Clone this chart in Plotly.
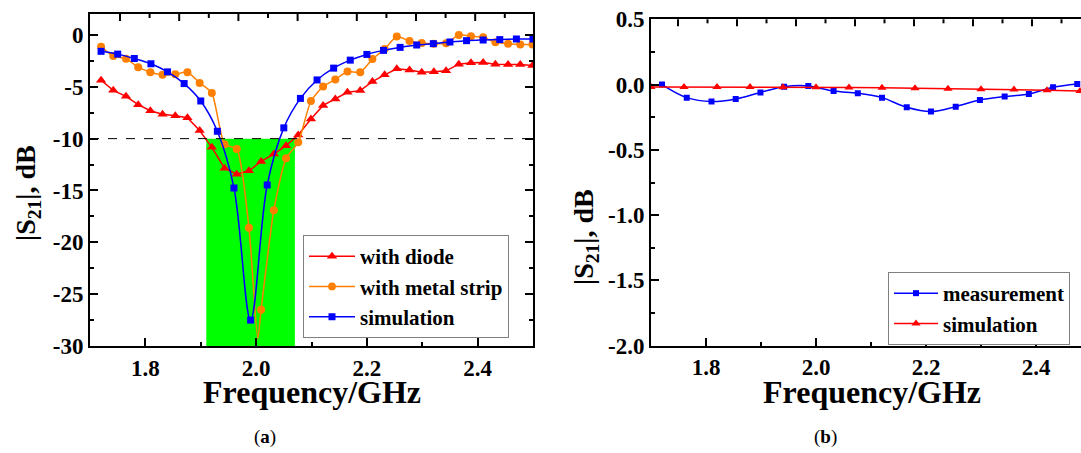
import plotly.graph_objects as go

# ---------------- data: panel (a) ----------------
sim_a_x = [1.72, 1.75, 1.78, 1.81, 1.84, 1.87, 1.90, 1.93, 1.96, 1.99, 2.02, 2.05, 2.08, 2.11,
           2.14, 2.17, 2.20, 2.23, 2.26, 2.29, 2.32, 2.35, 2.38, 2.41, 2.44, 2.47, 2.50]
sim_a_y = [-1.58, -1.85, -2.27, -2.78, -3.56, -4.69, -6.37, -9.29, -14.76, -27.5, -14.47, -8.96,
           -6.12, -4.34, -3.20, -2.43, -1.88, -1.49, -1.20, -0.97, -0.84, -0.68, -0.55, -0.49,
           -0.45, -0.39, -0.39]

diode_x = [1.720, 1.742, 1.765, 1.787, 1.809, 1.831, 1.854, 1.876, 1.898, 1.920, 1.943, 1.965,
           1.987, 2.009, 2.032, 2.054, 2.076, 2.099, 2.121, 2.143, 2.165, 2.188, 2.210, 2.232,
           2.254, 2.277, 2.299, 2.321, 2.343, 2.366, 2.388, 2.410, 2.432, 2.455, 2.477, 2.499]
diode_y = [-4.37, -5.34, -5.92, -6.73, -7.31, -7.64, -7.80, -7.99, -9.22, -10.84, -12.85, -13.43,
           -13.1, -12.2, -11.49, -10.68, -9.65, -8.1, -6.8, -6.18, -5.53, -5.37, -4.50, -3.85,
           -3.27, -3.37, -3.59, -3.56, -3.46, -2.82, -2.69, -2.65, -2.82, -2.84, -2.84, -2.94]

# metal strip curve: the minimum at 2.003 GHz is a line point drawn without a marker
strip_x = [1.720, 1.742, 1.765, 1.787, 1.809, 1.831, 1.854, 1.876, 1.898, 1.920, 1.943, 1.965,
           1.987, 2.003, 2.009, 2.032, 2.054, 2.076, 2.099, 2.121, 2.143, 2.165, 2.188, 2.210,
           2.232, 2.254, 2.277, 2.299, 2.321, 2.343, 2.366, 2.388, 2.410, 2.432, 2.455, 2.477,
           2.499]
strip_y = [-1.13, -2.04, -2.30, -3.11, -3.59, -3.85, -3.79, -3.59, -4.63, -5.60, -10.55, -11.0,
           -18.6, -29.3, -26.5, -16.9, -11.9, -10.36, -6.37, -4.98, -4.30, -3.53, -3.59, -2.33,
           -1.36, -0.16, -0.58, -0.78, -0.84, -0.81, 0.0, -0.13, -0.23, -0.71, -0.84, -0.91,
           -0.91]
strip_unmarked = [2.003]

band_lo, band_hi = 1.91, 2.07
threshold = -10

ya_tickvals = [0, -5, -10, -15, -20, -25, -30]
ya_ticktext = ["0", "-5", "-10", "-15", "-20", "-25", "-30"]
x_tickvals = [1.8, 2.0, 2.2, 2.4]
x_ticktext = ["1.8", "2.0", "2.2", "2.4"]

# ---------------- data: panel (b) ----------------
meas_b_x = [1.720, 1.765, 1.810, 1.854, 1.899, 1.942, 1.986, 2.032, 2.076, 2.120, 2.165, 2.209,
            2.254, 2.298, 2.343, 2.387, 2.431, 2.475]
meas_b_y = [0.0, -0.10, -0.13, -0.11, -0.06, -0.016, -0.01, -0.05, -0.067, -0.10, -0.174, -0.207,
            -0.169, -0.118, -0.092, -0.072, -0.021, 0.005]
sim_b_x = [1.70, 1.76, 1.82, 1.88, 1.94, 2.00, 2.06, 2.12, 2.18, 2.24, 2.30, 2.36, 2.42, 2.48]
sim_b_y = [-0.018, -0.018, -0.019, -0.019, -0.020, -0.021, -0.022, -0.025, -0.028, -0.031,
           -0.035, -0.038, -0.043, -0.050]
yb_tickvals = [0.5, 0.0, -0.5, -1.0, -1.5, -2.0]
yb_ticktext = ["0.5", "0.0", "-0.5", "-1.0", "-1.5", "-2.0"]

RED = "#ff0000"
ORANGE = "#ff8000"
BLUE = "#0000ff"
FONT = "Liberation Serif"
W, H = 1081, 453

fig = go.Figure()

strip_sizes = [0 if x in strip_unmarked else 8 for x in strip_x]

# panel (a)
fig.add_trace(go.Scatter(x=diode_x, y=diode_y, name="with diode", mode="lines+markers",
                         line=dict(color=RED, width=1.5),
                         marker=dict(symbol="triangle-up", size=9, color=RED),
                         xaxis="x", yaxis="y", legend="legend"))
fig.add_trace(go.Scatter(x=strip_x, y=strip_y, name="with metal strip", mode="lines+markers",
                         line=dict(color=ORANGE, width=1.5, shape="spline", smoothing=0.6),
                         marker=dict(symbol="circle", size=strip_sizes, color=ORANGE,
                                     opacity=1, line=dict(width=0)),
                         xaxis="x", yaxis="y", legend="legend"))
fig.add_trace(go.Scatter(x=sim_a_x, y=sim_a_y, name="simulation", mode="lines+markers",
                         line=dict(color=BLUE, width=1.5, shape="spline", smoothing=1.0),
                         marker=dict(symbol="square", size=7, color=BLUE),
                         xaxis="x", yaxis="y", legend="legend"))

# panel (b)
fig.add_trace(go.Scatter(x=meas_b_x, y=meas_b_y, name="measurement", mode="lines+markers",
                         line=dict(color=BLUE, width=1.5, shape="spline", smoothing=1.0),
                         marker=dict(symbol="square", size=6, color=BLUE),
                         xaxis="x2", yaxis="y2", legend="legend2"))
fig.add_trace(go.Scatter(x=sim_b_x, y=sim_b_y, name="simulation", mode="lines+markers",
                         line=dict(color=RED, width=1.5),
                         marker=dict(symbol="triangle-up", size=8, color=RED),
                         xaxis="x2", yaxis="y2", legend="legend2"))

tickfont = dict(family=FONT, size=23, color="black", weight="bold")
axis_common = dict(showgrid=False, zeroline=False, showline=True, linecolor="black",
                   linewidth=2, ticks="inside", ticklen=8, tickwidth=2, tickcolor="black",
                   tickfont=tickfont)
minor_common = dict(ticks="inside", ticklen=4, tickwidth=2, tickcolor="black")

legend_font = dict(family=FONT, size=21, color="black", weight="bold")

fig.update_layout(
    width=W, height=H,
    margin=dict(l=0, r=0, t=0, b=0, autoexpand=False),
    paper_bgcolor="white", plot_bgcolor="white",
    showlegend=True,
    xaxis=dict(domain=[90 / W, 533 / W], range=[1.7, 2.5], anchor="y", mirror=True,
               tickvals=x_tickvals, ticktext=x_ticktext,
               minor=dict(dtick=0.1, tick0=1.7, **minor_common), **axis_common),
    yaxis=dict(domain=[1 - 346 / H, 1 - 14 / H], range=[-30, 2.02], anchor="x", mirror="ticks",
               tickvals=ya_tickvals, ticktext=ya_ticktext,
               minor=dict(dtick=2.5, tick0=0, **minor_common), **axis_common),
    xaxis2=dict(domain=[651 / W, 1.0], range=[1.7, 1.7 + 430 / 550], anchor="y2", mirror=True,
                tickvals=x_tickvals, ticktext=x_ticktext,
                minor=dict(dtick=0.1, tick0=1.7, **minor_common), **axis_common),
    yaxis2=dict(domain=[1 - 345.7 / H, 1 - 19.3 / H], range=[-2.0, 0.5], anchor="x2",
                mirror=False, tickvals=yb_tickvals, ticktext=yb_ticktext,
                minor=dict(dtick=0.25, tick0=0, **minor_common), **axis_common),
    legend=dict(x=303 / W, y=1 - 235 / H, xanchor="left", yanchor="top",
                bgcolor="white", bordercolor="#808080", borderwidth=1,
                font=legend_font, itemwidth=46, tracegroupgap=0),
    legend2=dict(x=888 / W, y=1 - 272 / H, xanchor="left", yanchor="top",
                 bgcolor="white", bordercolor="#808080", borderwidth=1,
                 font=legend_font, itemwidth=44, tracegroupgap=0),
)

# green band and threshold line in panel (a)
fig.add_shape(type="rect", xref="x", yref="y", x0=band_lo, x1=band_hi, y0=-30, y1=threshold,
              fillcolor="#00ff00", line=dict(width=0), layer="below")
fig.add_shape(type="line", xref="x domain", yref="y", x0=0, x1=1, y0=threshold, y1=threshold,
              line=dict(color="black", width=1, dash="dash"), layer="above")

# top-frame tick marks (independent top scale in the original figure)
def top_ticks(xref, yref, width_px, height_px, first_px, step_px):
    k = 0
    while first_px + k * step_px < width_px:
        xpos = (first_px + k * step_px) / width_px
        length = 7 if k % 2 == 0 else 4
        fig.add_shape(type="line", xref=xref, yref=yref, x0=xpos, x1=xpos, y0=1,
                      y1=1 - length / height_px, line=dict(color="black", width=2))
        k += 1

top_ticks("x domain", "y domain", 443, 332, 30, 29.6)
top_ticks("x2 domain", "y2 domain", 430, 326.4, 27, 29.5)

# axis titles
title_font = dict(family=FONT, size=32, color="black", weight="bold")
ytitle_font = dict(family=FONT, size=28, color="black", weight="bold")
fig.add_annotation(text="Frequency/GHz", x=312 / W, y=1 - 392 / H, xref="paper", yref="paper",
                   showarrow=False, font=title_font, xanchor="center", yanchor="middle")
fig.add_annotation(text="Frequency/GHz", x=872 / W, y=1 - 392 / H, xref="paper", yref="paper",
                   showarrow=False, font=title_font, xanchor="center", yanchor="middle")
fig.add_annotation(text="|S<sub>21</sub>|, dB", x=28 / W, y=1 - 193 / H, xref="paper",
                   yref="paper", showarrow=False, font=ytitle_font, textangle=-90,
                   xanchor="center", yanchor="middle")
fig.add_annotation(text="|S<sub>21</sub>|, dB", x=585 / W, y=1 - 237 / H, xref="paper",
                   yref="paper", showarrow=False, font=ytitle_font, textangle=-90,
                   xanchor="center", yanchor="middle")

# captions
cap_font = dict(family=FONT, size=19, color="black")
fig.add_annotation(text="(<b>a</b>)", x=265 / W, y=1 - 437 / H, xref="paper", yref="paper",
                   showarrow=False, font=cap_font, xanchor="center", yanchor="middle")
fig.add_annotation(text="(<b>b</b>)", x=825 / W, y=1 - 437 / H, xref="paper", yref="paper",
                   showarrow=False, font=cap_font, xanchor="center", yanchor="middle")

fig.write_html("out.html")
